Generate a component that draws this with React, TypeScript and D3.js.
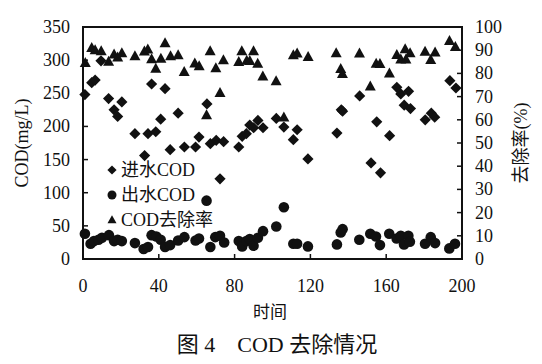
import React from "react";
import * as d3 from "d3";

const xTicks = [0, 40, 80, 120, 160, 200];
const codTicks = [0, 50, 100, 150, 200, 250, 300, 350];
const pctTicks = [0, 10, 20, 30, 40, 50, 60, 70, 80, 90, 100];

// 进水COD (day, mg/L)
const influent: [number, number][] = [
  [1, 248], [4.6, 266], [6.4, 270], [9.5, 299], [13.5, 242], [16.4, 225], [18.3, 215], [20.5, 237],
  [27.4, 189], [32.5, 156], [34.3, 189], [36.2, 264], [38.4, 192], [41, 211], [43.3, 257], [46, 165],
  [50.2, 220], [53.5, 169], [59.4, 169], [61.2, 184], [65.4, 234], [67.2, 174], [70.3, 179], [72.3, 121],
  [74.2, 177], [82.2, 169], [84, 185], [86.2, 189], [88, 202], [90, 198], [92.3, 209], [95, 198],
  [102, 212], [106, 199], [111, 180], [113, 195], [118.7, 151], [134, 190], [136.3, 225], [137, 223],
  [146, 246], [152, 145], [155, 207], [157, 130], [161.8, 186], [165.6, 259], [167.7, 249], [169.5, 232],
  [171.8, 253], [172.8, 227], [180.6, 210], [183.8, 220], [185.6, 214], [193.6, 269], [196.8, 258],
];

// 出水COD (day, mg/L)
const effluent: [number, number][] = [
  [1, 38], [4, 23], [5.8, 27], [8.2, 29], [10, 32], [13.7, 36], [16.4, 27], [18.3, 29], [20.5, 27],
  [27.4, 24], [32, 15], [34.3, 18], [36.2, 36], [38.7, 34], [41, 29], [43.3, 18], [46, 21], [50.2, 28],
  [53.5, 33], [59.4, 28], [61.2, 31], [65.2, 88], [67.2, 18], [69.8, 33], [72.3, 35], [74.5, 25],
  [82.2, 27], [84, 19], [86.2, 27], [88, 30], [90, 20], [92.3, 32], [95, 42], [102, 49], [106, 78],
  [111, 23], [113, 23], [118.7, 19], [134, 22], [136, 40], [137, 45], [145.8, 29], [151.6, 38],
  [154.6, 34], [156.7, 21], [161.6, 38], [165.5, 31], [167.7, 35], [169.4, 22], [171.7, 35], [172.5, 26],
  [180.5, 23], [183.5, 33], [185.8, 24], [193.3, 16], [196.3, 23],
];

// COD去除率 (day, %)
const removal: [number, number][] = [
  [1.2, 84.5], [4.6, 90.9], [6.4, 90], [9.6, 89.5], [13.5, 85], [16.4, 88.1], [18.3, 86.9], [20.5, 88.7],
  [27.4, 87.4], [32.4, 89.4], [34.2, 90.3], [36.2, 86.1], [38.4, 82], [41.1, 86.3], [43.3, 93], [46.2, 87.4],
  [50.2, 87.8], [53.4, 80.6], [59, 84.3], [61.3, 83.1], [65.2, 62], [67.1, 89.5], [70.1, 82.2], [72.3, 71.5],
  [74.1, 85.7], [82.2, 84.9], [83.8, 89.5], [86.4, 85.4], [88, 85.3], [90, 89.5], [92.2, 84.2], [94.9, 78.7],
  [101.9, 76.6], [106, 61], [111, 87.8], [113, 88.6], [118.8, 87.1], [133.6, 88.7], [136, 81.9], [136.9, 79.7],
  [145.9, 88.6], [151.6, 74.3], [154.7, 84.2], [156.7, 84], [161.7, 80], [165.6, 87.9], [167.7, 86],
  [170, 90.4], [170.4, 86], [172.6, 88.7], [180.5, 89.3], [183.5, 85.8], [185.8, 89], [193.4, 94], [196.5, 91.4],
];

const legendItems = ["进水COD", "出水COD", "COD去除率"];

const W = 542;
const H = 364;
const left = 83;
const right = 462;
const top = 27;
const bottom = 259;

const serif = "'Liberation Serif', 'Times New Roman', 'Noto Sans CJK SC', serif";
const ink = "#111";

const diamond = (cx: number, cy: number, r: number) =>
  `M${cx},${cy - r}L${cx + r},${cy}L${cx},${cy + r}L${cx - r},${cy}Z`;
const triangle = (cx: number, cy: number, w: number, h: number) =>
  `M${cx},${cy - h * 0.6}L${cx + w / 2},${cy + h * 0.4}L${cx - w / 2},${cy + h * 0.4}Z`;

export default function App() {
  const x = d3.scaleLinear().domain([0, 200]).range([left, right]);
  const yL = d3.scaleLinear().domain([0, 350]).range([bottom, top]);
  const yR = d3.scaleLinear().domain([0, 100]).range([bottom, top]);

  return (
    <svg
      width={W}
      height={H}
      viewBox={`0 0 ${W} ${H}`}
      style={{ position: "absolute", left: 0, top: 0, background: "#fff" }}
      fontFamily={serif}
    >
      <rect x={0} y={0} width={W} height={H} fill="#fff" />

      {/* markers */}
      {removal.map(([d, v], i) => (
        <path key={"t" + i} d={triangle(x(d), yR(v), 11, 10)} fill={ink} />
      ))}
      {influent.map(([d, v], i) => (
        <path key={"d" + i} d={diamond(x(d), yL(v), 5.6)} fill={ink} />
      ))}
      {effluent.map(([d, v], i) => (
        <circle key={"c" + i} cx={x(d)} cy={yL(v)} r={5.3} fill={ink} />
      ))}

      {/* frame */}
      <rect x={left} y={top} width={right - left} height={bottom - top} fill="none" stroke={ink} strokeWidth={2} />

      {/* left axis ticks */}
      {codTicks.map((t) => (
        <g key={"l" + t}>
          <line x1={left} x2={left + 5} y1={yL(t)} y2={yL(t)} stroke={ink} strokeWidth={1.5} />
          <text x={70} y={yL(t)} textAnchor="end" dominantBaseline="central" fontSize={18} fill={ink}>
            {t}
          </text>
        </g>
      ))}
      {/* right axis ticks */}
      {pctTicks.map((t) => (
        <g key={"r" + t}>
          <line x1={right - 5} x2={right} y1={yR(t)} y2={yR(t)} stroke={ink} strokeWidth={1.5} />
          <text x={475} y={yR(t)} textAnchor="start" dominantBaseline="central" fontSize={18} fill={ink}>
            {t}
          </text>
        </g>
      ))}
      {/* bottom axis ticks */}
      {xTicks.map((t) => (
        <g key={"b" + t}>
          <line x1={x(t)} x2={x(t)} y1={bottom - 5} y2={bottom} stroke={ink} strokeWidth={1.5} />
          <text x={x(t)} y={292} textAnchor="middle" fontSize={18} fill={ink}>
            {t}
          </text>
        </g>
      ))}

      {/* axis titles */}
      <text
        transform={`translate(22,${(top + bottom) / 2}) rotate(-90)`}
        textAnchor="middle"
        dominantBaseline="central"
        fontSize={18}
        fill={ink}
      >
        COD(mg/L)
      </text>
      <text
        transform={`translate(521,${(top + bottom) / 2}) rotate(-90)`}
        textAnchor="middle"
        dominantBaseline="central"
        fontSize={18}
        fill={ink}
      >
        去除率(%)
      </text>
      <text x={270} y={318} textAnchor="middle" fontSize={17} fill={ink}>
        时间
      </text>

      {/* legend */}
      {legendItems.map((label, i) => {
        const cy = 170 + i * 25;
        return (
          <g key={label}>
            {i === 0 && <path d={diamond(112, cy, 4.6)} fill={ink} />}
            {i === 1 && <circle cx={112} cy={cy} r={4.5} fill={ink} />}
            {i === 2 && <path d={triangle(112, cy, 9, 8)} fill={ink} />}
            <text x={121} y={cy} dominantBaseline="central" fontSize={18} fill={ink}>
              {label}
            </text>
          </g>
        );
      })}

      {/* caption */}
      <text x={277} y={352} textAnchor="middle" fontSize={22} fill={ink}>
        图 4　COD 去除情况
      </text>
    </svg>
  );
}
